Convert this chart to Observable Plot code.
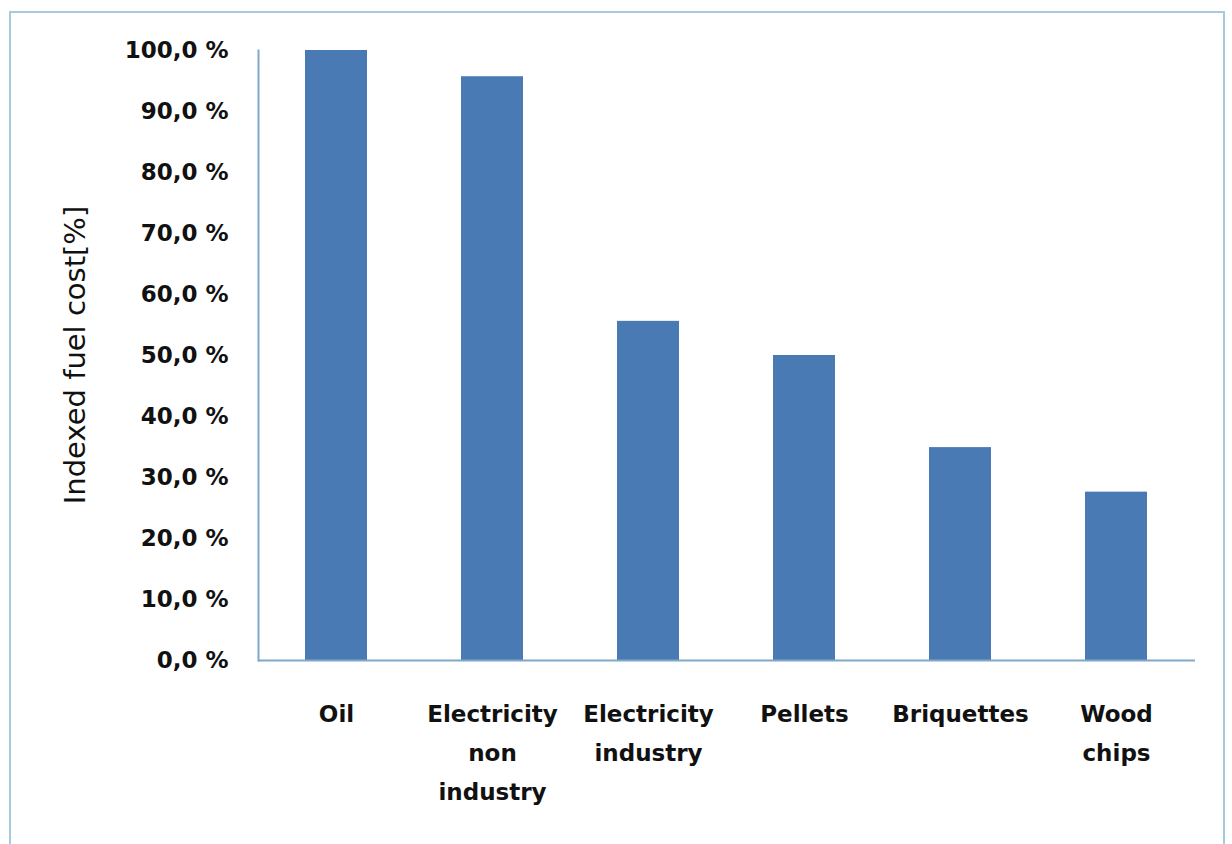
<!DOCTYPE html>
<html>
<head>
<meta charset="utf-8">
<script src="https://cdn.jsdelivr.net/npm/d3@7"></script>
<script src="https://cdn.jsdelivr.net/npm/@observablehq/plot@0.6"></script>
<style>
  html, body { margin: 0; padding: 0; background: #fff; overflow: hidden; }
  #wrap { position: relative; width: 1232px; height: 844px; }
  #border { position: absolute; left: 9px; top: 11px; width: 1216px; height: 900px;
            border: 2px solid #a9cadb; box-sizing: border-box; pointer-events: none; }
</style>
</head>
<body>
<div id="wrap"><div id="border"></div></div>
<script>
const categories = ["Oil", "Electricity non industry", "Electricity industry", "Pellets", "Briquettes", "Wood chips"];
const tickLabels = ["Oil", "Electricity\nnon\nindustry", "Electricity\nindustry", "Pellets", "Briquettes", "Wood\nchips"];
const values = [100, 95.7, 55.6, 50.0, 34.9, 27.6];
const yTicks = [0, 10, 20, 30, 40, 50, 60, 70, 80, 90, 100];
const yTitle = "Indexed fuel cost[%]";

const data = categories.map((c, i) => ({category: c, value: values[i]}));
const labelOf = new Map(categories.map((c, i) => [c, tickLabels[i]]));

const plot = Plot.plot({
  width: 1232,
  height: 844,
  marginLeft: 258,
  marginRight: 37,
  marginTop: 50,
  marginBottom: 184,
  style: {fontFamily: "'DejaVu Sans', sans-serif", background: "transparent", overflow: "visible"},
  x: {domain: categories, paddingInner: 0.6, paddingOuter: 0.3},
  y: {domain: [0, 100]},
  marks: [
    Plot.barY(data, {x: "category", y: "value", fill: "#4a7ab4"}),
    Plot.ruleY([0], {stroke: "#7fa9c9", strokeWidth: 2}),
    Plot.frame({anchor: "left", stroke: "#7fa9c9", strokeWidth: 2}),
    Plot.axisY({
      ticks: yTicks,
      tickSize: 0,
      tickPadding: 30,
      tickFormat: d => d.toFixed(1).replace(".", ",") + " %",
      fontSize: 23,
      fontWeight: "bold",
      fill: "#111",
      label: null
    }),
    Plot.axisX({
      tickSize: 0,
      tickPadding: 34,
      tickFormat: d => labelOf.get(d),
      fontSize: 23,
      fontWeight: "bold",
      fill: "#111",
      lineHeight: 1.7,
      label: null
    })
  ]
});

const svg = d3.select(plot);
svg.append("text")
  .attr("transform", "translate(77,355) rotate(-90)")
  .attr("text-anchor", "middle")
  .attr("dominant-baseline", "middle")
  .attr("font-family", "'DejaVu Sans', sans-serif")
  .attr("font-size", 29)
  .attr("fill", "#111")
  .text(yTitle);

plot.style.position = "absolute";
plot.style.left = "0px";
plot.style.top = "0px";
document.getElementById("wrap").insertBefore(plot, document.getElementById("border"));
</script>
</body>
</html>
